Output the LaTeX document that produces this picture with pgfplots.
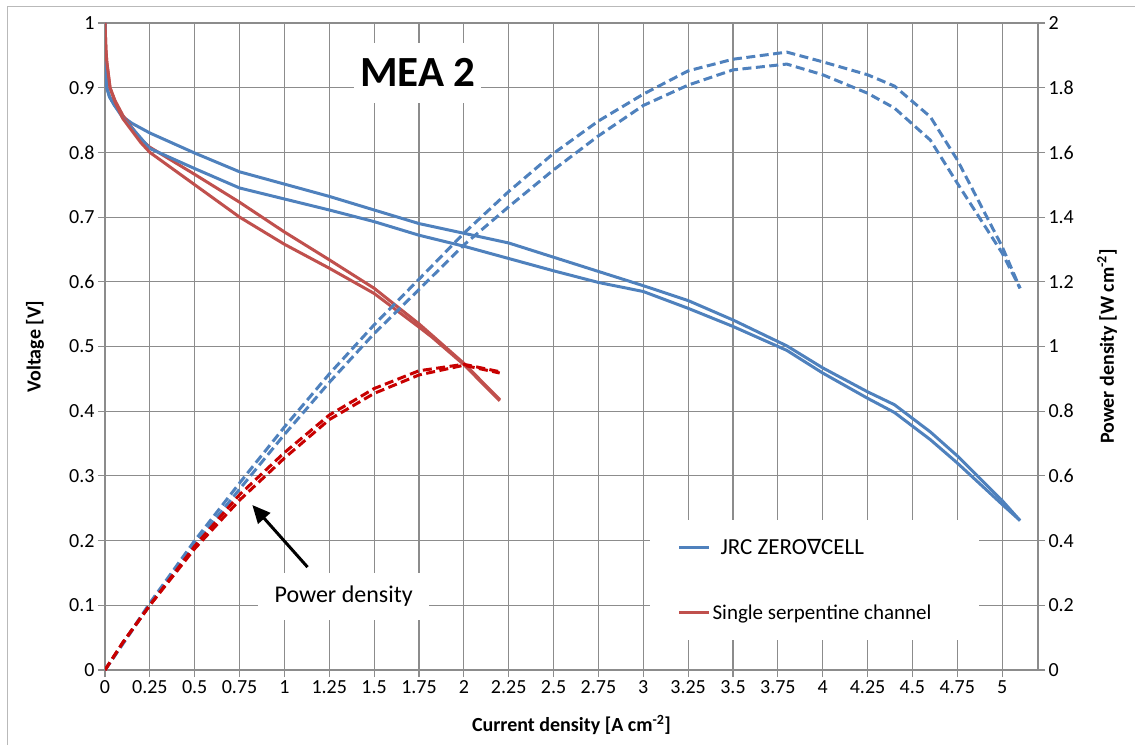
\documentclass[border=0pt]{standalone}
\usepackage{fontspec}
\setmainfont{Carlito}
\newfontfamily\dejavu{DejaVu Sans}
\usepackage{pgfplots}
\pgfplotsset{compat=1.18}
\usetikzlibrary{arrows.meta}
\definecolor{xlblue}{RGB}{79,129,189}
\definecolor{xlred}{RGB}{192,80,77}
\definecolor{xldred}{RGB}{200,0,0}
\definecolor{gridgray}{RGB}{140,140,140}
\begin{document}
\begin{tikzpicture}[x=1pt,y=1pt]
\useasboundingbox (0,0) rectangle (1135,745);
\draw[gray!55, line width=1pt] (7,0) -- (7,738) -- (1135,738);
\begin{axis}[
  at={(105pt,75pt)}, anchor=south west,
  scale only axis, width=933pt, height=647pt,
  xmin=0, xmax=5.2, ymin=0, ymax=1,
  axis line style={gridgray, line width=1.1pt},
  grid=major, major grid style={gridgray, line width=1.1pt},
  tick style={gridgray, line width=1.1pt}, major tick length=7pt, tick align=outside,
  xtick pos=left, ytick pos=left,
  xtick={0,0.25,0.5,0.75,1,1.25,1.5,1.75,2,2.25,2.5,2.75,3,3.25,3.5,3.75,4,4.25,4.5,4.75,5},
  xticklabels={0,0.25,0.5,0.75,1,1.25,1.5,1.75,2,2.25,2.5,2.75,3,3.25,3.5,3.75,4,4.25,4.5,4.75,5},
  ytick={0,0.1,0.2,0.3,0.4,0.5,0.6,0.7,0.8,0.9,1},
  yticklabels={0,0.1,0.2,0.3,0.4,0.5,0.6,0.7,0.8,0.9,1},
  ticklabel style={font=\fontsize{20}{24}\selectfont, text=black},
  xlabel={Current density [A cm\textsuperscript{-2}]},
  ylabel={Voltage [V]},
  label style={font=\bfseries\fontsize{20}{24}\selectfont},
  xlabel style={at={(axis description cs:0.5,-0.085)}, anchor=center},
  ylabel style={at={(axis description cs:-0.075,0.5)}, anchor=center},
  legend style={draw=none, fill=none, at={(axis cs:3.19,0.139)}, anchor=west,
    row sep=45pt, font=\fontsize{21}{25}\selectfont, inner sep=0pt},
  legend cell align=left,
  legend image code/.code={\draw[#1, line width=3pt] (0pt,0pt) -- (30pt,0pt);},
]
\addplot[xlblue, line width=3pt] coordinates {
(0,1.0) (0.004,0.93) (0.01,0.9) (0.025,0.886) (0.05,0.874) (0.1,0.855) (0.15,0.845)
(0.25,0.83) (0.5,0.799) (0.75,0.77) (1.0,0.751) (1.25,0.732) (1.5,0.711) (1.75,0.69)
(2.0,0.675) (2.25,0.66) (2.5,0.638) (2.75,0.616) (3.0,0.594) (3.25,0.571) (3.5,0.541)
(3.8,0.501) (4.0,0.467) (4.25,0.43) (4.4,0.41) (4.6,0.368) (4.75,0.331) (5.0,0.262) (5.1,0.231)};
\addlegendentry{\hspace{8pt}{\fontsize{23}{27}\selectfont JRC ZERO{\dejavu\fontsize{21}{27}\selectfont ∇}CELL}}
\addplot[xlred, line width=3pt] coordinates {
(0,1.0) (0.005,0.96) (0.01,0.94) (0.028,0.9) (0.056,0.88) (0.1,0.857) (0.2,0.82)
(0.25,0.808) (0.5,0.766) (0.75,0.723) (1.0,0.677) (1.25,0.634) (1.5,0.59) (1.75,0.535)
(1.82,0.518) (2.0,0.474) (2.2,0.418)};
\addlegendentry{Single serpentine channel}
\addplot[xlblue, line width=3pt] coordinates {
(0,1.0) (0.004,0.93) (0.01,0.9) (0.025,0.886) (0.05,0.874) (0.1,0.853) (0.175,0.83)
(0.25,0.806) (0.5,0.775) (0.75,0.745) (1.0,0.728) (1.25,0.711) (1.5,0.693) (1.75,0.672)
(2.0,0.655) (2.25,0.636) (2.5,0.617) (2.75,0.599) (3.0,0.585) (3.25,0.559) (3.5,0.531)
(3.8,0.494) (4.0,0.459) (4.25,0.42) (4.4,0.398) (4.6,0.356) (4.75,0.32) (5.0,0.256) (5.1,0.231)};
\addplot[xlred, line width=3pt] coordinates {
(0,1.0) (0.005,0.96) (0.01,0.94) (0.028,0.9) (0.056,0.878) (0.1,0.852) (0.2,0.815)
(0.25,0.8) (0.5,0.75) (0.75,0.70) (1.0,0.658) (1.25,0.621) (1.5,0.582) (1.75,0.53)
(1.82,0.515) (2.0,0.472) (2.2,0.416)};
\fill[white] (axis cs:3.04,0.046) rectangle (axis cs:4.871,0.232);
\node[fill=white, inner sep=0pt, minimum width=127pt, minimum height=60pt,
  font=\bfseries\fontsize{43}{50}\selectfont] at (axis cs:1.744,0.923) {MEA 2};
\node[fill=white, inner sep=0pt, minimum width=171pt, minimum height=47pt,
  font=\fontsize{24}{28}\selectfont] at (axis cs:1.33,0.1136) {Power density};
\draw[black, line width=3pt, -{Triangle[length=18pt,width=16pt]}]
  (axis cs:1.129,0.159) -- (axis cs:0.821,0.255);
\end{axis}
\begin{axis}[
  at={(105pt,75pt)}, anchor=south west,
  scale only axis, width=933pt, height=647pt,
  xmin=0, xmax=5.2, ymin=0, ymax=2,
  axis x line=none, axis y line*=right,
  axis line style={gridgray, line width=1.1pt},
  tick style={gridgray, line width=1.1pt}, major tick length=7pt, tick align=outside,
  ytick={0,0.2,0.4,0.6,0.8,1,1.2,1.4,1.6,1.8,2},
  yticklabels={0,0.2,0.4,0.6,0.8,1,1.2,1.4,1.6,1.8,2},
  ticklabel style={font=\fontsize{20}{24}\selectfont, text=black},
  ylabel={Power density [W cm\textsuperscript{-2}]},
  label style={font=\bfseries\fontsize{20}{24}\selectfont},
  ylabel style={at={(axis description cs:1.074,0.5)}, anchor=center},
]
\addplot[xlblue, line width=3pt, dash pattern=on 9pt off 4.5pt] coordinates {
(0,0) (0.25,0.207) (0.5,0.40) (0.75,0.578) (1.0,0.751) (1.25,0.915) (1.5,1.067)
(1.75,1.208) (2.0,1.35) (2.25,1.479) (2.5,1.597) (2.75,1.697) (3.0,1.78) (3.25,1.852)
(3.5,1.888) (3.8,1.91) (4.0,1.88) (4.25,1.84) (4.4,1.805) (4.6,1.71) (4.75,1.577)
(5.0,1.309) (5.1,1.18)};
\addplot[xlblue, line width=3pt, dash pattern=on 9pt off 4.5pt] coordinates {
(0,0) (0.25,0.202) (0.5,0.388) (0.75,0.559) (1.0,0.728) (1.25,0.889) (1.5,1.04)
(1.75,1.176) (2.0,1.314) (2.25,1.432) (2.5,1.546) (2.75,1.651) (3.0,1.745) (3.25,1.808)
(3.5,1.855) (3.8,1.873) (4.0,1.84) (4.25,1.783) (4.4,1.737) (4.6,1.638) (4.75,1.505)
(5.0,1.289) (5.1,1.18)};
\addplot[xldred, line width=3pt, dash pattern=on 9pt off 4.5pt] coordinates {
(0,0) (0.1,0.086) (0.25,0.2) (0.5,0.383) (0.75,0.542) (1.0,0.672) (1.25,0.788)
(1.5,0.87) (1.75,0.925) (2.0,0.945) (2.2,0.922)};
\addplot[xldred, line width=3pt, dash pattern=on 9pt off 4.5pt] coordinates {
(0,0) (0.1,0.085) (0.25,0.2) (0.5,0.375) (0.75,0.525) (1.0,0.655) (1.25,0.774)
(1.5,0.855) (1.75,0.912) (2.0,0.942) (2.2,0.918)};
\end{axis}
\end{tikzpicture}
\end{document}
